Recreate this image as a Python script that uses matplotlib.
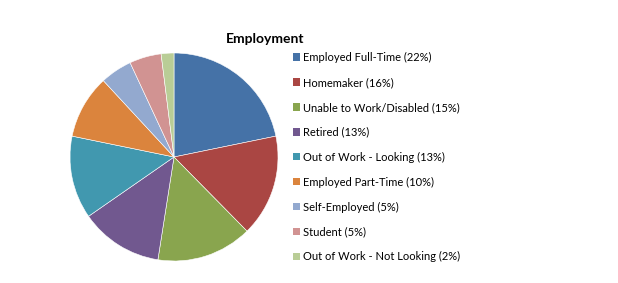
import matplotlib
matplotlib.use("Agg")
import matplotlib.pyplot as plt

categories = ["Employed Full-Time", "Homemaker", "Unable to Work/Disabled", "Retired",
              "Out of Work - Looking", "Employed Part-Time", "Self-Employed", "Student",
              "Out of Work - Not Looking"]
values = [22, 16, 15, 13, 13, 10, 5, 5, 2]
colors = ["#4572A7", "#AA4643", "#89A54E", "#71588F", "#4198AF", "#DB843D",
          "#93A9CF", "#D19392", "#B9CD96"]
title = "Employment"

plt.rcParams['font.family'] = ['Lato', 'DejaVu Sans']

W, H = 618, 283
fig = plt.figure(figsize=(W / 100, H / 100), dpi=100)
fig.patch.set_facecolor("white")

cx, cy, r = 174, 157, 104
ax = fig.add_axes([(cx - r) / W, (H - cy - r) / H, 2 * r / W, 2 * r / H])
wedges, _ = ax.pie(values, colors=colors, startangle=90, counterclock=False,
                   radius=1.0, wedgeprops=dict(edgecolor="white", linewidth=0.4))
ax.set_xlim(-1, 1)
ax.set_ylim(-1, 1)
ax.set_aspect("equal")
ax.axis("off")

fig.text(265 / W, 1 - 39 / H, title, ha="center", va="center",
         fontsize=10, fontweight="bold")

labels = [f"{c} ({v}%)" for c, v in zip(categories, values)]
leg = fig.legend(wedges, labels, loc="upper left",
                 bbox_to_anchor=(292.5 / W, 1 - 52 / H),
                 frameon=False, fontsize=8.0, handlelength=0.65, handleheight=0.65,
                 handletextpad=0.3, labelspacing=1.25, borderpad=0, borderaxespad=0)
for h in leg.legend_handles:
    h.set_edgecolor("none")

fig.savefig("out.png", dpi=100)
